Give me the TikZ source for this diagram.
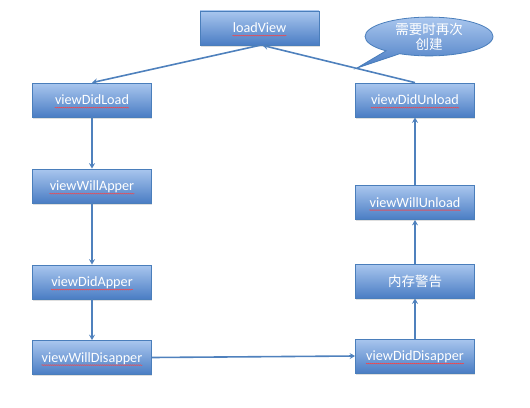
\documentclass[tikz,border=0pt]{standalone}
\usepackage{fontspec}
\setmainfont{Carlito}
\newfontfamily\cjk{Noto Sans CJK SC}
\usetikzlibrary{shapes.callouts,decorations.pathmorphing,shadows,arrows.meta}
\definecolor{boxtop}{HTML}{A9C6EE}
\definecolor{boxbot}{HTML}{4A7DC4}
\definecolor{boxline}{HTML}{4A7EBB}
\definecolor{arrowc}{HTML}{4F81BD}
\tikzset{
  box/.style={rectangle, draw=boxline, line width=0.8bp, top color=boxtop, bottom color=boxbot,
    minimum width=119bp, minimum height=34bp, inner sep=0pt,
    drop shadow={opacity=0.25, shadow xshift=0.8bp, shadow yshift=-1.5bp}},
  lbl/.style={text=white, inner sep=0pt, font=\fontsize{14.2bp}{16bp}\selectfont},
  squig/.style={draw=red!75, line width=0.45bp, decorate,
    decoration={snake, segment length=2bp, amplitude=0.4bp}},
  conn/.style={draw=arrowc, line width=1.6bp, -{Stealth[length=5.5bp,width=6bp,inset=2bp]}},
}
\begin{document}
\begin{tikzpicture}[x=1bp,y=1bp]
\useasboundingbox (0,0) rectangle (530,407);
% boxes
\node[box] (lv)  at (259.5,379) {};
\node[box] (vdl) at (92,307) {};
\node[box] (vwa) at (92,221) {};
\node[box] (vda) at (92,125) {};
\node[box] (vwd) at (92,49.5) {};
\node[box] (vdu) at (415,307) {};
\node[box] (vwu) at (415,204.5) {};
\node[box] (mem) at (415,126) {};
\node[box] (vdd) at (415,51) {};
% labels
\foreach \n/\t in {lv/loadView, vdl/viewDidLoad, vwa/viewWillApper, vda/viewDidApper,
  vwd/viewWillDisapper, vdu/viewDidUnload, vwu/viewWillUnload, vdd/viewDidDisapper}{
  \node[lbl, anchor=base] (\n-t) at ([yshift=-4.8bp]\n.center) {\t};
  \draw[squig] ([yshift=-2.8bp]\n-t.base west) -- ([yshift=-2.8bp]\n-t.base east);
}
\node[lbl, font=\cjk\fontsize{13.5bp}{15bp}\selectfont] (mem-t) at (mem.center) {内存警告};
% connectors
\draw[conn] (lv.south) -- (vdl.north);
\draw[conn] (vdl.south) -- (vwa.north);
\draw[conn] (vwa.south) -- (vda.north);
\draw[conn] (vda.south) -- (vwd.north);
\draw[conn] (vwd.east) -- (vdd.west);
\draw[conn] (vdd.north) -- (mem.south);
\draw[conn] (mem.north) -- (vwu.south);
\draw[conn] (vwu.north) -- (vdu.south);
\draw[conn] (vdu.north) -- ([xshift=3bp]lv.south);
% callout
\node[ellipse callout, draw=boxline, line width=0.8bp, top color=boxtop, bottom color=boxbot,
  minimum width=128bp, minimum height=37bp, inner sep=0pt,
  callout absolute pointer={(357,339)}, text=white, align=center,
  font=\cjk\fontsize{13.5bp}{15bp}\selectfont] (co) at (429,370.5) {需要时再次\\创建};
\end{tikzpicture}
\end{document}
